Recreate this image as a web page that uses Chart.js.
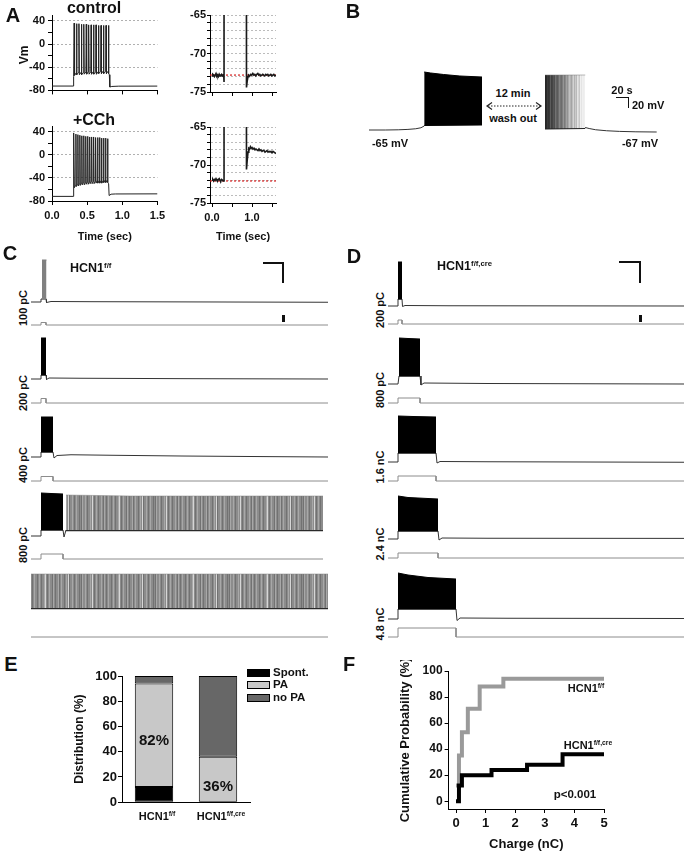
<!DOCTYPE html>
<html><head><meta charset="utf-8"><title>HCN1 figure</title>
<script src="https://cdn.jsdelivr.net/npm/chart.js@4.4.1/dist/chart.umd.min.js"></script>
<style>
html,body{margin:0;padding:0;background:#fff;}
#fig{position:relative;width:689px;height:853px;overflow:hidden;font-family:"Liberation Sans",Arial,sans-serif;font-weight:bold;color:#111;}
canvas{position:absolute;}
.t{position:absolute;white-space:nowrap;line-height:1;}
.sb{position:absolute;background:#111;}
.lg{position:absolute;width:21px;height:6px;border:1px solid #000;}
</style></head>
<body>
<div id="fig">
<svg style="position:absolute;left:484px;top:100px" width="60" height="12">
<line x1="4" y1="6" x2="56" y2="6" stroke="#222" stroke-width="1" stroke-dasharray="1.5,1.5"/>
<polyline points="8,2.5 3,6 8,9.5" fill="none" stroke="#222" stroke-width="1.2"/>
<polyline points="52,2.5 57,6 52,9.5" fill="none" stroke="#222" stroke-width="1.2"/>
</svg>
</div>
<script>
// ================= DATA =================
// Panel A (Vm in mV, time in s)
const aCtrlRestPre = [[0,-72.5],[0.30,-72.5],[0.305,-56]];
const aCtrlSpikeT = [0.315,0.349,0.383,0.418,0.452,0.487,0.521,0.556,0.591,0.626,0.661,0.697,0.732,0.768,0.803];
const aCtrlPeak   = [36,35,35,34,34,34,33,33,33,33,32,32,32,32,32];
const aCtrlTrough = [-54,-53,-53,-53,-52,-52,-52,-52,-52,-52,-51,-51,-51,-51,-51];
const aCtrlRestPost = [[0.815,-53],[0.822,-74.2],[0.85,-73.2],[0.95,-72.7],[1.5,-72.6]];

const aCChRestPre = [[0,-72],[0.30,-72],[0.305,-58]];
const aCChSpikeT = [0.312,0.340,0.368,0.396,0.424,0.452,0.480,0.508,0.536,0.564,0.592,0.620,0.648,0.676,0.704,0.733,0.761,0.790];
const aCChPeak   = [38,36,35,34,33,33,32,32,31,31,31,30,30,30,29,29,29,28];
const aCChTrough = [-57,-55,-54,-53,-52,-52,-51,-51,-50,-50,-50,-49,-49,-49,-49,-48,-48,-48];
const aCChRestPost = [[0.805,-50],[0.812,-70.5],[0.84,-68.2],[0.9,-67.8],[1.5,-67.6]];

const aCtrlZoom = [[0.00,-72.9],[0.02,-72.7],[0.04,-72.8],[0.06,-73.0],[0.08,-72.8],[0.10,-72.6],[0.12,-72.9],[0.14,-72.8],[0.16,-73.0],[0.18,-72.7],[0.20,-72.9],[0.22,-72.8],[0.24,-72.7],[0.26,-72.9],[0.28,-72.8],[0.295,-73.0],[0.30,-73.6],[0.301,-60],
 [0.86,-60],[0.862,-74.4],[0.88,-73.6],[0.90,-73.0],[0.92,-72.8],[0.945,-72.9],[0.97,-72.7],[0.995,-72.8],[1.02,-72.6],[1.045,-72.8],[1.07,-72.7],[1.095,-72.9],[1.12,-72.7],[1.145,-72.6],[1.17,-72.8],[1.195,-72.7],[1.22,-72.9],[1.245,-72.8],[1.27,-72.7],[1.295,-72.8],[1.32,-72.9],[1.345,-72.7],[1.37,-72.8],[1.395,-72.7],[1.42,-72.9],[1.445,-72.8],[1.47,-72.7],[1.495,-72.9],[1.52,-72.8],[1.545,-72.7],[1.57,-72.9],[1.6,-72.8]];
const aCtrlRef = -72.8;
const aCChZoom = [[0.00,-72.0],[0.02,-71.9],[0.04,-72.1],[0.06,-71.9],[0.08,-72.0],[0.10,-71.8],[0.12,-72.0],[0.14,-72.1],[0.16,-71.9],[0.18,-71.8],[0.20,-72.0],[0.22,-72.1],[0.24,-71.9],[0.26,-72.0],[0.28,-72.1],[0.30,-72.1],[0.301,-60],
 [0.86,-60],[0.862,-70.6],[0.88,-69.4],[0.90,-68.3],[0.92,-67.8],[0.94,-67.9],[0.96,-67.6],[0.98,-67.8],[1.0,-67.7],[1.025,-67.9],[1.05,-67.8],[1.075,-68.0],[1.1,-67.9],[1.125,-68.0],[1.15,-68.1],[1.175,-67.9],[1.2,-68.1],[1.225,-68.0],[1.25,-68.2],[1.275,-68.1],[1.3,-68.1],[1.325,-68.3],[1.35,-68.2],[1.375,-68.1],[1.4,-68.3],[1.425,-68.2],[1.45,-68.3],[1.475,-68.2],[1.5,-68.4],[1.525,-68.2],[1.55,-68.3],[1.575,-68.4],[1.6,-68.5]];
const aCChRef = -72.1;

// Panel B (time in s, Vm in mV)
const bBeforeRest = [[0,-65],[25,-65],[45,-64.6],[60,-63.8],[72,-62.5],[80,-60.5],[85,-57]];
const bBeforeBurstTop = [[85,51],[95,49],[115,46],[140,43],[174,41]];
const bBeforeBurstBot = [[85,-56],[174,-55]];
const bAfterBurstTop = [[0,47],[62,47]];
const bAfterBurstBot = [[0,-60],[62,-59]];
const bAfterRest = [[62,-58],[68,-60],[78,-62.5],[95,-64.5],[115,-65.8],[140,-66.6],[172,-67]];

// Panel C  (HCN1 f/f) time in s, Vm in mV, stimulus in nA
const cLabels = ['100 pC','200 pC','400 pC','800 pC',''];
const cRest = [
 [[0,-70],[1.0,-70],[1.0,-64],[1.5,-64],[1.55,-71],[2.0,-69],[6,-69.4],[15,-69.8],[29.7,-70.5]],
 [[0,-70],[1.0,-70],[1.0,-62],[1.5,-62],[1.55,-71],[1.8,-68],[5,-68.5],[15,-69.3],[29.7,-70]],
 [[0,-70],[1.0,-70],[1.0,-60],[2.2,-60],[2.3,-72],[2.6,-67],[4,-65.5],[8,-66.5],[15,-68],[22,-69],[29.7,-70]],
 [[0,-70],[1.0,-70],[1.0,-58],[3.2,-58],[3.3,-72],[3.5,-58],[29.2,-58]],
 [[0,-58],[29.7,-58]]
];
const cBurstTop = [ [[1.1,14],[1.55,14]], [[1.0,12],[1.5,12]], [[1.0,10],[2.2,10]], [[1.0,16],[2.0,15],[3.2,14]], null ];
const cBurstBot = [ [[1.1,-64],[1.55,-64]], [[1.0,-62],[1.5,-62]], [[1.0,-60],[2.2,-60]], [[1.0,-58],[3.2,-58]], null ];
const cTrainTop = [ null, null, null, [[3.5,12],[10,10],[20,10],[29.2,10]], [[0,10],[29.7,10]] ];
const cTrainBot = [ null, null, null, [[3.5,-58],[29.2,-58]], [[0,-58],[29.7,-58]] ];
const cStimOn  = [1.0,1.0,1.0,1.0,null];
const cStimOff = [1.5,1.5,2.2,3.2,null];
const cStimAmp = [0.25,0.45,0.45,0.5,0];
const cEnd = [29.7,29.7,29.7,29.2,29.7];

// Panel D (HCN1 f/f,cre)
const dLabels = ['200 pC','800 pC','1.6 nC','2.4 nC','4.8 nC'];
const dRest = [
 [[0,-70],[1.0,-70],[1.0,-56],[1.4,-56],[1.45,-71],[1.7,-69],[6,-69.5],[29.6,-70]],
 [[0,-70],[1.0,-70],[1.1,-54],[3.2,-54],[3.3,-72],[3.6,-68],[10,-69],[29.6,-70]],
 [[0,-70],[1.0,-70],[1.0,-52],[4.8,-52],[4.9,-72],[5.2,-69],[10,-69.5],[29.6,-70.5]],
 [[0,-70],[1.0,-70],[1.0,-54],[5.0,-54],[5.1,-72],[5.4,-68],[10,-68.5],[29.6,-68.8]],
 [[0,-70],[1.0,-70],[1.0,-50],[6.8,-50],[6.9,-73],[7.2,-68],[12,-68.5],[29.6,-69]]
];
const dBurstTop = [ [[1.0,18],[1.4,18]], [[1.1,22],[2.0,21],[3.2,20]], [[1.0,22],[2.5,21],[4.8,20]], [[1.0,16],[2.0,13],[5.0,10]], [[1.0,22],[2.0,18],[4.0,13],[6.8,10]] ];
const dBurstBot = [ [[1.0,-56],[1.4,-56]], [[1.1,-54],[3.2,-54]], [[1.0,-52],[4.8,-52]], [[1.0,-54],[5.0,-54]], [[1.0,-50],[6.8,-50]] ];
const dStimOn  = [1.0,1.0,1.0,1.0,1.0];
const dStimOff = [1.4,3.2,4.8,5.0,6.8];
const dStimAmp = [0.4,0.5,0.5,0.5,0.9];
const dEnd = 29.6;

// Panel E
const eCategories = ['HCN1f/f','HCN1f/f,cre'];
const eSpont = [12, 0];
const ePA    = [82, 36];
const eNoPA  = [6, 64];
const ePALabels = ['82%','36%'];

// Panel F (charge in nC, cumulative probability in %)
const fFloxCharge = [0,0.1,0.2,0.4,0.8,1.6,5];
const fFloxProb   = [12,35,53,71,88,94,94];
const fCreCharge  = [0,0.1,0.2,1.2,2.4,3.6,5];
const fCreProb    = [0,12,20,24,28,36,36];

// ================= RENDER =================
const FONT = '"Liberation Sans", Arial, sans-serif';
Chart.defaults.font.family = FONT;
Chart.defaults.font.weight = 'bold';
Chart.defaults.color = '#111';
Chart.defaults.animation = false;
Chart.defaults.responsive = false;
Chart.defaults.maintainAspectRatio = false;
Chart.defaults.devicePixelRatio = 1;
Chart.defaults.events = [];
Chart.defaults.plugins.legend.display = false;
Chart.defaults.plugins.tooltip.enabled = false;
Chart.defaults.elements.point.radius = 0;
Chart.defaults.elements.line.tension = 0;

const fig = document.getElementById('fig');
const P = arr => arr.map(([x,y]) => ({x, y}));
function mk(left, top, w, h, config){
  const c = document.createElement('canvas');
  c.width = w; c.height = h;
  c.style.left = left+'px'; c.style.top = top+'px';
  c.style.width = w+'px'; c.style.height = h+'px';
  fig.appendChild(c);
  return new Chart(c.getContext('2d'), config);
}
function txt(html, cx, cy, size, opts){
  opts = opts || {};
  const d = document.createElement('div');
  d.className = 't';
  d.innerHTML = html;
  d.style.fontSize = size+'px';
  d.style.left = cx+'px'; d.style.top = cy+'px';
  let tr = opts.left ? 'translate(0,-50%)' : 'translate(-50%,-50%)';
  if (opts.rot) tr += ' rotate(-90deg)';
  d.style.transform = tr;
  fig.appendChild(d);
}
function bar(x,y,w,h){
  const d = document.createElement('div');
  d.className='sb'; d.style.left=x+'px'; d.style.top=y+'px'; d.style.width=w+'px'; d.style.height=h+'px';
  fig.appendChild(d);
}
const sup = s => '<span style="font-size:0.62em;position:relative;top:-0.55em">'+s+'</span>';

// striped fill (style only) imitating densely packed spikes
function stripePattern(code, shades){
  const pc = document.createElement('canvas');
  pc.width = code.length; pc.height = 2;
  const g = pc.getContext('2d');
  [...code].forEach((ch,i)=>{ g.fillStyle = shades[ch]; g.fillRect(i,0,1,2); });
  return g.createPattern(pc,'repeat');
}
const trainFill = stripePattern('mdmlmmdmlmdmmlwmdmlmmdlmdmmldmlmmdmlmwdmmlmdmlmmdmdlmmlmdmmlmwmdmlmdmmlmdl',
  {d:'#727272', m:'#8c8c8c', l:'#a8a8a8', w:'#d6d6d6'});
function washPattern(){
  const code = 'ddmddlddmdlmdmlmdmldmlmlwlmlwmlmwlmwlwlw';
  const pc = document.createElement('canvas');
  pc.width = code.length; pc.height = 2;
  const g = pc.getContext('2d');
  [...code].forEach((ch,i)=>{
    const base = 50 + i*4.4;
    const v = Math.min(240, Math.round(base + ({d:-12,m:0,l:20,w:38})[ch]));
    g.fillStyle = 'rgb('+v+','+v+','+v+')'; g.fillRect(i,0,1,2);
  });
  return g.createPattern(pc,'repeat-y');
}

// ---- Panel A ----
function spikeTrace(pre, times, peaks, troughs, post){
  const pts = P(pre);
  let lvl = pre[pre.length-1][1];
  times.forEach((t,i) => {
    pts.push({x:t-0.005, y: i ? troughs[i-1]+4 : lvl});
    pts.push({x:t, y:peaks[i]});
    pts.push({x:t+0.006, y:troughs[i]});
  });
  return pts.concat(P(post));
}
const isMult = (v,m) => Math.abs(v/m - Math.round(v/m)) < 1e-6;
const tickFont = {size:11, weight:'bold', family:FONT};
function aLeftOpts(showLabels, xAxisH, titlePadB){
  return {
    layout:{padding:{top:15,right:14.5,left:0,bottom:0}},
    scales:{
      x:{type:'linear',min:0,max:1.5,
        ticks:{stepSize:0.5,display:showLabels,font:tickFont,color:'#111',padding:4.5,maxRotation:0,autoSkip:false,
          callback:v=>v.toFixed(1)},
        grid:{drawOnChartArea:false,tickLength:4,tickColor:'#000'},
        border:{color:'#000'},
        title:{display:showLabels,text:'Time (sec)',font:tickFont,color:'#111',padding:{top:0,bottom:titlePadB}},
        afterFit:s=>{s.height=xAxisH;}},
      y:{type:'linear',min:-80,max:50,
        ticks:{stepSize:20,includeBounds:false,autoSkip:false,font:tickFont,color:'#111',padding:3,
          callback:v=>(isMult(v,40)?Math.round(v):'')},
        grid:{color:c=>(c.tick && isMult(c.tick.value,40) && c.tick.value>-79 && c.tick.value<49)?'#b0b0b0':'rgba(0,0,0,0)',
          tickColor:'#000',tickLength:4},
        border:{color:'#000',dash:[2,2]},
        afterFit:s=>{s.width=52;}}
    }
  };
}
mk(0,0,172,100,{type:'line',data:{datasets:[{data:spikeTrace(aCtrlRestPre,aCtrlSpikeT,aCtrlPeak,aCtrlTrough,aCtrlRestPost),borderColor:'#222',borderWidth:1}]},options:aLeftOpts(false,9,0)});
mk(0,111,172,140,{type:'line',data:{datasets:[{data:spikeTrace(aCChRestPre,aCChSpikeT,aCChPeak,aCChTrough,aCChRestPost),borderColor:'#222',borderWidth:1}]},options:aLeftOpts(true,50,7)});

function aRightOpts(showLabels, padTop, xAxisH){
  return {
    layout:{padding:{top:padTop,right:14,left:0,bottom:0}},
    scales:{
      x:{type:'linear',min:-0.05,max:1.6,
        ticks:{stepSize:0.5,includeBounds:false,autoSkip:false,display:showLabels,font:tickFont,color:'#111',padding:4,maxRotation:0,
          callback:v=>(isMult(v,1) && v<1.5)?v.toFixed(1):''},
        grid:{drawOnChartArea:false,tickLength:4,tickColor:'#000'},
        border:{color:'#000'},
        title:{display:showLabels,text:'Time (sec)',font:tickFont,color:'#111',padding:{top:0,bottom:7}},
        afterFit:s=>{s.height=xAxisH;}},
      y:{type:'linear',min:-75,max:-65,
        ticks:{stepSize:1,autoSkip:false,font:tickFont,color:'#111',padding:1,callback:v=>(isMult(v,5)?Math.round(v):'')},
        grid:{color:c=>(c.tick && c.tick.value>-74.5)?'#bcbcbc':'rgba(0,0,0,0)',tickColor:'#000',tickLength:3},
        border:{color:'#000',dash:[2,2]},
        afterFit:s=>{s.width=50;}}
    }
  };
}
function aRightData(zoom, ref){
  return {datasets:[
    {data:P(zoom),borderColor:'#1a1a1a',borderWidth:1.6},
    {data:[{x:-0.05,y:ref},{x:1.6,y:ref}],borderColor:'#d42020',borderWidth:1.2,borderDash:[2,2]}
  ]};
}
mk(160,0,130,100,{type:'line',data:aRightData(aCtrlZoom,aCtrlRef),options:aRightOpts(false,15,8)});
mk(160,111,130,140,{type:'line',data:aRightData(aCChZoom,aCChRef),options:aRightOpts(true,16,48)});

txt('A',13,15,20);
txt('control',94,8,16);
txt('+CCh',94,120,16);
txt('Vm',24,55,12,{rot:true});

// ---- Panel B ----
function burstSets(top, bot, fillColor, edgeColor, edgeW){
  return [
    {data:P(top),borderColor:edgeColor||'#000',backgroundColor:fillColor,borderWidth:1,fill:'+1'},
    {data:P(bot),borderColor:edgeColor||'#000',borderWidth:edgeW||1,fill:false}
  ];
}
mk(369,60,113,85,{type:'line',data:{datasets:[
  ...burstSets(bBeforeBurstTop,bBeforeBurstBot,'#000','#000',1),
  {data:P(bBeforeRest),borderColor:'#333',borderWidth:1}
]},options:{layout:{padding:0},scales:{x:{type:'linear',display:false,min:0,max:174},y:{type:'linear',display:false,min:-95,max:75}}}});

const washFill = washPattern();
mk(545,60,112,85,{type:'line',data:{datasets:[
  {data:P(bAfterBurstTop),borderColor:'#777',backgroundColor:washFill,borderWidth:0.5,fill:'+1'},
  {data:P(bAfterBurstBot),borderColor:'#222',borderWidth:2,fill:false},
  {data:P(bAfterRest),borderColor:'#333',borderWidth:1}
]},options:{layout:{padding:0},scales:{x:{type:'linear',display:false,min:0,max:172.5},y:{type:'linear',display:false,min:-93,max:77}}}});

txt('B',353,11,20);
txt('12 min',513,93,11);
txt('wash out',513,118,11);
txt('-65 mV',390,143,11);
txt('-67 mV',640,143,11);
txt('20 s',622,90,11);
txt('20 mV',632,105,11,{left:true});
bar(616,97,13,1); bar(628,97,1,11);

// ---- Panels C & D (trace rows) ----
function stimPts(on, off, amp, end){
  if (on === null) return [{x:0,y:0},{x:end,y:0}];
  return [{x:0,y:0},{x:on,y:0},{x:on,y:amp},{x:off,y:amp},{x:off,y:0},{x:end,y:0}];
}
function traceRow(left, w, tMax, lay, rest, bTop, bBot, bColor, trTop, trBot, stim){
  const [top,h,baseY,stimY] = lay;
  const ds = [];
  if (trTop) ds.push(
    {data:P(trTop),borderColor:'rgba(130,130,130,0.5)',backgroundColor:trainFill,borderWidth:1,fill:'+1'},
    {data:P(trBot),borderColor:'#2a2a2a',borderWidth:2.5,fill:false});
  if (bTop) ds.push(...burstSets(bTop,bBot,bColor,bColor,1));
  ds.push({data:P(rest),borderColor:'#333',borderWidth:1,fill:false});
  ds.push({data:stim,borderColor:'#8c8c8c',borderWidth:1,fill:false,yAxisID:'s'});
  ds.forEach(d=>{ if(!d.yAxisID) d.yAxisID='v'; });
  mk(left,top,w,h,{type:'line',data:{datasets:ds},options:{layout:{padding:0},scales:{
    x:{type:'linear',display:false,min:0,max:tMax},
    v:{axis:'y',type:'linear',display:false,min:-70-(top+h-baseY)*2,max:-70+(baseY-top)*2},
    s:{axis:'y',type:'linear',display:false,min:-(top+h-stimY)/10,max:(stimY-top)/10}
  }}});
}
const cLayout = [[255,75,302,325],[332,75,379,403],[412,72,457,481],[489,73,536,559],[568,72,614,637]];
const cLabelY = [308,393,465,545];
for (let i=0;i<5;i++){
  traceRow(31,297,29.7,cLayout[i],cRest[i],cBurstTop[i],cBurstBot[i],i===0?'#808080':'#000',cTrainTop[i],cTrainBot[i],
    stimPts(cStimOn[i],cStimOff[i],cStimAmp[i],cEnd[i]));
  if (cLabels[i]) txt(cLabels[i],23,cLabelY[i],11,{rot:true});
}
const dLayout = [[255,72,306,324],[333,73,384,403],[412,72,462,481],[490,71,539,558],[568,72,619,637]];
const dLabelY = [310,390,467,544,624];
for (let i=0;i<5;i++){
  traceRow(388,296,29.6,dLayout[i],dRest[i],dBurstTop[i],dBurstBot[i],'#000',null,null,
    stimPts(dStimOn[i],dStimOff[i],dStimAmp[i],dEnd));
  txt(dLabels[i],380,dLabelY[i],11,{rot:true});
}
txt('C',10,253,20);
txt('HCN1'+sup('f/f'),70,268,12.5,{left:true});
bar(263,262,21,2); bar(282,262,2,21); bar(282,315,2.5,7);
txt('D',354,256,20);
txt('HCN1'+sup('f/f,cre'),437,266,12.5,{left:true});
bar(619,261,22,2); bar(639,261,2,22); bar(639,315,2.5,7);

// ---- Panel E ----
const eColors = ['#000','#c8c8c8','#676767'];
mk(68,664,194,147,{type:'bar',data:{labels:eCategories,datasets:[
  {label:'Spont.',data:eSpont,backgroundColor:eColors[0],borderColor:'#000',borderWidth:1,borderSkipped:false},
  {label:'PA',data:ePA,backgroundColor:eColors[1],borderColor:'#000',borderWidth:1,borderSkipped:false},
  {label:'no PA',data:eNoPA,backgroundColor:eColors[2],borderColor:'#000',borderWidth:1,borderSkipped:false}
]},options:{
  layout:{padding:{top:12,right:12,left:0,bottom:0}},
  datasets:{bar:{barPercentage:1,categoryPercentage:0.6}},
  scales:{
    x:{stacked:true,ticks:{display:false},grid:{display:false,drawTicks:false},border:{color:'#000'},afterFit:s=>{s.height=6;}},
    y:{stacked:true,min:0,max:100,ticks:{stepSize:20,font:{size:13,weight:'bold',family:FONT},color:'#111',padding:1},
      grid:{drawOnChartArea:false,tickLength:4,tickColor:'#000'},border:{color:'#000'},
      title:{display:true,text:'Distribution (%)',font:{size:12,weight:'bold',family:FONT},color:'#111',padding:{top:4,bottom:0}},
      afterFit:s=>{s.width=54;}}
  }}});
txt('E',11,664,20);
txt(ePALabels[0],154,739,15);
txt(ePALabels[1],218,785,15);
txt('HCN1'+sup('f/f'),157,816,11);
txt('HCN1'+sup('f/f,cre'),221,816,11);
['Spont.','PA','no PA'].forEach((s,i)=>{
  const y = [673,685,698][i];
  const b = document.createElement('div'); b.className='lg';
  b.style.left='247px'; b.style.top=(y-4)+'px'; b.style.background=eColors[i];
  fig.appendChild(b);
  txt(s,273,y,11.5,{left:true});
});

// ---- Panel F ----
const fFont = {size:12,weight:'bold',family:FONT};
mk(395,660,220,193,{type:'line',data:{datasets:[
  {data:fCreCharge.map((x,i)=>({x,y:fCreProb[i]})),borderColor:'#000',borderWidth:4,stepped:true,borderJoinStyle:'miter'},
  {data:fFloxCharge.map((x,i)=>({x,y:fFloxProb[i]})),borderColor:'#9a9a9a',borderWidth:4,stepped:true,borderJoinStyle:'miter'}
]},options:{
  layout:{padding:{top:11,right:11,left:0,bottom:0}},
  scales:{
    x:{type:'linear',min:-0.25,max:5,ticks:{stepSize:1,includeBounds:false,font:{size:13,weight:'bold',family:FONT},color:'#111',padding:3,maxRotation:0},
      grid:{drawOnChartArea:false,tickLength:4,tickColor:'#000'},border:{color:'#000'},
      title:{display:true,text:'Charge (nC)',font:{size:13,weight:'bold',family:FONT},color:'#111',padding:{top:0,bottom:1}},
      afterFit:s=>{s.height=44;}},
    y:{type:'linear',min:-6,max:100,ticks:{stepSize:20,includeBounds:false,font:fFont,color:'#111',padding:2},
      grid:{drawOnChartArea:false,tickLength:4,tickColor:'#000'},border:{color:'#000'},
      title:{display:true,text:'Cumulative Probability (%)',font:{size:13,weight:'bold',family:FONT},color:'#111',padding:{top:3,bottom:0}},
      afterFit:s=>{s.width=53.6;}}
  }}});
txt('F',349,664,20);
txt('HCN1'+sup('f/f'),586,688,11);
txt('HCN1'+sup('f/f,cre'),588,745,11);
txt('p&lt;0.001',575,795,11.5);
</script>
</body></html>
